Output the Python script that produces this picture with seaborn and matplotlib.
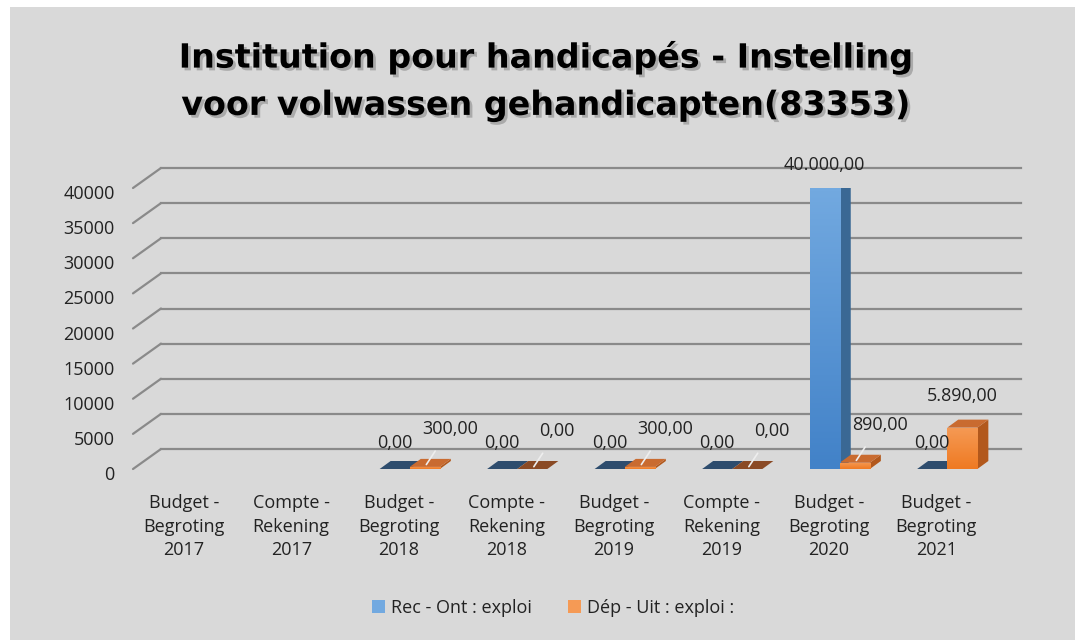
import numpy as np
import pandas as pd
import matplotlib
matplotlib.use("Agg")
import matplotlib.pyplot as plt
import matplotlib.patheffects as pe
import matplotlib.transforms as mtransforms
from matplotlib.patches import Polygon, Rectangle
from matplotlib.colors import LinearSegmentedColormap
import seaborn as sns


# =========================
#  Data
# =========================

categories = [
    "Budget -\nBegroting\n2017",
    "Compte -\nRekening\n2017",
    "Budget -\nBegroting\n2018",
    "Compte -\nRekening\n2018",
    "Budget -\nBegroting\n2019",
    "Compte -\nRekening\n2019",
    "Budget -\nBegroting\n2020",
    "Budget -\nBegroting\n2021",
]
series = ["Rec - Ont : exploi", "Dép - Uit : exploi :"]
rec_values = [np.nan, np.nan, 0, 0, 0, 0, 40000, 0]
dep_values = [np.nan, np.nan, 300, 0, 300, 0, 890, 5890]
y_ticks = [0, 5000, 10000, 15000, 20000, 25000, 30000, 35000, 40000]
title = "Institution pour handicapés - Instelling\nvoor volwassen gehandicapten(83353)"

df = pd.DataFrame({
    "category": categories * 2,
    "series": [series[0]] * len(categories) + [series[1]] * len(categories),
    "value": rec_values + dep_values,
})

# colours: front (top, bottom), side, top face, top face when empty
colors = {
    series[0]: dict(front=("#72a9e0", "#4282c8"), side="#3a6894", top="#5b8cbf", flat="#2e4d6e"),
    series[1]: dict(front=("#f59a55", "#ef7a22"), side="#b2581c", top="#c96b30", flat="#8a4a25"),
}

# =========================
#  Figure
# =========================

plt.rcParams["font.family"] = ["Open Sans", "DejaVu Sans"]
fig = plt.figure(figsize=(10.75, 6.4), dpi=100, facecolor="white")
fig.patches.append(Rectangle((10 / 1075, 0), 1, 633 / 640, transform=fig.transFigure,
                             facecolor="#d9d9d9", edgecolor="none", zorder=-5))

W, H = 1075, 640
shift = 8  # bars sit a little right of the front axis corner
ax_l, ax_r, ax_b, ax_t = 133 + shift, 993 + shift, 469, 188
ax = fig.add_axes([ax_l / W, 1 - ax_b / H, (ax_r - ax_l) / W, (ax_b - ax_t) / H])
ax.set_facecolor("none")

sns.barplot(
    data=df, x="category", y="value", hue="series",
    order=categories, hue_order=series,
    palette=[colors[s]["front"][1] for s in series],
    width=0.56, saturation=1, linewidth=0, legend=False, ax=ax, zorder=3,
)

ax.set_xlim(-0.5, len(categories) - 0.5)
ax.set_ylim(0, 40000)
ax.set_yticks(y_ticks)
ax.set_yticklabels([str(t) for t in y_ticks])
ax.set_xlabel("")
ax.set_ylabel("")
for sp in ax.spines.values():
    sp.set_visible(False)
ax.tick_params(axis="both", length=0, labelsize=13, labelcolor="#222222")
ax.tick_params(axis="y", pad=19)
ax.tick_params(axis="x", pad=18)
for lab in ax.get_xticklabels():
    lab.set_linespacing(1.4)
    lab.set_transform(lab.get_transform() + mtransforms.ScaledTranslation(-0.11, 0, fig.dpi_scale_trans))
for lab in ax.get_yticklabels():
    lab.set_transform(lab.get_transform() + mtransforms.ScaledTranslation(0, -0.04, fig.dpi_scale_trans))

# back-wall gridlines with the slanted left edge
grid_dx, grid_dy = 28, 20
corner = ax.transData + mtransforms.ScaledTranslation(-shift / 100, 0, fig.dpi_scale_trans)
back = corner + mtransforms.ScaledTranslation(grid_dx / 100, grid_dy / 100, fig.dpi_scale_trans)
x0, x1 = ax.get_xlim()
for v in y_ticks:
    ax.plot([x0, x1], [v, v], transform=back, color="#8a8a8a", lw=1.6, zorder=1, clip_on=False)
    ax.annotate("", xy=(x0, v), xycoords=corner, xytext=(grid_dx, grid_dy), textcoords="offset pixels",
                arrowprops=dict(arrowstyle="-", color="#8a8a8a", lw=1.6,
                                shrinkA=0, shrinkB=0), zorder=1, annotation_clip=False)

# 3D look for the bars
ux = (x1 - x0) / (ax_r - ax_l)
uy = 40000 / (ax_b - ax_t)
dx, dy = 11 * ux, 8 * uy
grad = np.linspace(0, 1, 64).reshape(-1, 1)

for k, (s, cont) in enumerate(zip(series, ax.containers)):
    c = colors[s]
    for bar, val in zip(cont.patches, cont.datavalues):
        if np.isnan(val):
            bar.set_visible(False)
            continue
        x, w, h = bar.get_x(), bar.get_width(), bar.get_height()
        side = Polygon([(x + w, 0), (x + w + dx, dy), (x + w + dx, h + dy), (x + w, h)],
                       closed=True, facecolor=c["side"], edgecolor="none", zorder=1.5 + k * 0.2)
        topc = c["top"] if h > 0 else c["flat"]
        top = Polygon([(x, h), (x + dx, h + dy), (x + w + dx, h + dy), (x + w, h)],
                      closed=True, facecolor=topc, edgecolor="none", zorder=1.6 + k * 0.2)
        ax.add_patch(side)
        ax.add_patch(top)
        if h > 0:
            cmap = LinearSegmentedColormap.from_list("g", [c["front"][1], c["front"][0]])
            im = ax.imshow(grad, cmap=cmap, extent=(x, x + w, 0, h), aspect="auto",
                           origin="lower", zorder=3.5, interpolation="bicubic")
            im.set_clip_path(bar)

ax.set_xlim(x0, x1)
ax.set_ylim(0, 40000)


def fmt(v):
    return f"{v:,.2f}".replace(",", " ").replace(".", ",").replace(" ", ".")


# data labels
for k, (s, cont) in enumerate(zip(series, ax.containers)):
    for bar, val in zip(cont.patches, cont.datavalues):
        if np.isnan(val):
            continue
        xc = bar.get_x() + bar.get_width() / 2
        h = bar.get_height()
        if k == 0:
            ax.annotate(fmt(val), xy=(xc, h), xytext=(0, 26 if h == 0 else 23),
                        textcoords="offset pixels", ha="center", va="center",
                        fontsize=13, color="#222222", zorder=6)
        elif val < 1000:
            ax.annotate(fmt(val), xy=(xc, h), xytext=(25, 38),
                        textcoords="offset pixels", ha="center", va="center",
                        fontsize=13, color="#222222", zorder=6,
                        arrowprops=dict(arrowstyle="-", color="#eeeeee", lw=1.2,
                                        shrinkA=9, shrinkB=2))
        else:
            ax.annotate(fmt(val), xy=(xc, h), xytext=(0, 32),
                        textcoords="offset pixels", ha="center", va="center",
                        fontsize=13, color="#222222", zorder=6)

# title
fig.text(0.508, 1 - 81 / H, title, ha="center", va="center", fontsize=24,
         fontweight="bold", family=["DejaVu Sans"], color="black", linespacing=1.55,
         path_effects=[pe.SimplePatchShadow(offset=(2, -2), alpha=0.35, shadow_rgbFace="#555555"),
                       pe.Normal()])

# legend
handles = [Rectangle((0, 0), 1, 1, facecolor=colors[s]["front"][0], edgecolor="none") for s in series]
fig.legend(handles, series, loc="center", bbox_to_anchor=(553 / W, 1 - 608 / H), ncol=2,
           frameon=False, fontsize=13, handlelength=0.75, handleheight=0.75,
           handletextpad=0.3, columnspacing=2.0, labelcolor="#222222")

fig.savefig("out.png", dpi=100, facecolor=fig.get_facecolor())
plt.close(fig)
